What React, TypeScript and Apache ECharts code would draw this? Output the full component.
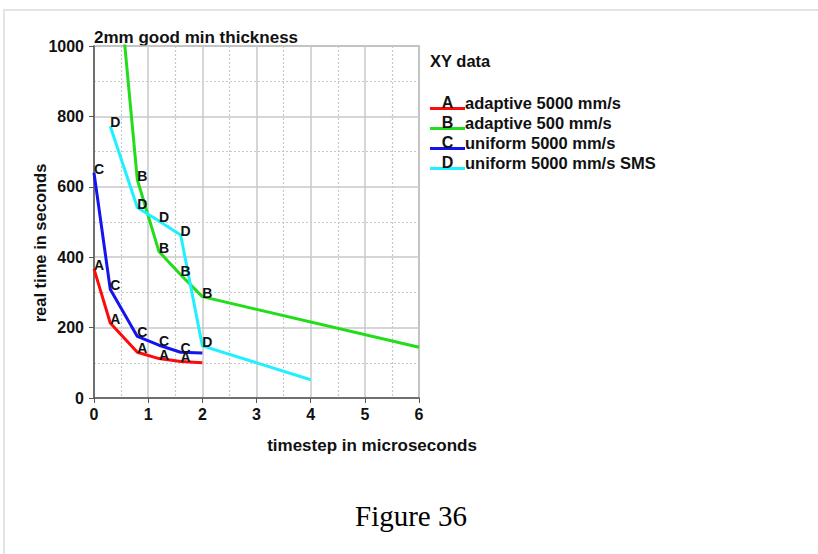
import React, { useEffect, useRef } from "react";
import * as echarts from "echarts";

const seriesNames = ["adaptive 5000 mm/s", "adaptive 500 mm/s", "uniform 5000 mm/s", "uniform 5000 mm/s SMS"];
const seriesLetters = ["A", "B", "C", "D"];
const seriesColors = ["#ff0a0a", "#22dd1a", "#1414f0", "#1ef0ff"];

const dataA: [number, number][] = [[0, 367], [0.3, 213], [0.8, 130], [1.2, 112], [1.6, 104], [2, 100]];
const dataB: [number, number][] = [[0.5, 1115], [0.8, 620], [1.2, 416], [1.6, 350], [2, 288], [6, 144]];
const dataC: [number, number][] = [[0, 640], [0.3, 309], [0.8, 175], [1.2, 150], [1.6, 130], [2, 128]];
const dataD: [number, number][] = [[0.3, 772], [0.8, 541], [1.2, 503], [1.6, 463], [2, 148], [4, 52]];
const allData = [dataA, dataB, dataC, dataD];

const titleText = "2mm good min thickness";
const xName = "timestep in microseconds";
const yName = "real time in seconds";
const legendTitle = "XY data";
const caption = "Figure 36";

const FONT = "Liberation Sans, Arial, sans-serif";

export default function App() {
  const ref = useRef<HTMLDivElement>(null);
  useEffect(() => {
    if (!ref.current) return;
    const chart = echarts.init(ref.current, undefined, { renderer: "svg" });

    const series = allData.map((d, i) => ({
      type: "line",
      name: seriesNames[i],
      data: d,
      symbol: "circle",
      symbolSize: 0,
      clip: true,
      lineStyle: { color: seriesColors[i], width: 3 },
      itemStyle: { color: seriesColors[i] },
      label: {
        show: true,
        position: "top",
        distance: 0,
        offset: [5, 3],
        color: "#111",
        fontFamily: FONT,
        fontWeight: "bold",
        fontSize: 14,
        formatter: (p: any) => (p.dataIndex < d.length - 1 ? seriesLetters[i] : ""),
      },
      emphasis: { disabled: true },
      z: 3,
    }));

    const legendEls: any[] = [];
    seriesNames.forEach((n, i) => {
      const cy = 102.5 + 20 * i;
      legendEls.push({
        type: "line",
        shape: { x1: 430, y1: cy + 6, x2: 465, y2: cy + 6 },
        style: { stroke: seriesColors[i], lineWidth: 3 },
      });
      legendEls.push({
        type: "text",
        x: 447.5,
        y: cy,
        style: {
          text: seriesLetters[i],
          fill: "#111",
          font: `bold 16px ${FONT}`,
          align: "center",
          verticalAlign: "middle",
        },
      });
      legendEls.push({
        type: "text",
        x: 465,
        y: cy,
        style: {
          text: n,
          fill: "#111",
          font: `bold 16.5px ${FONT}`,
          align: "left",
          verticalAlign: "middle",
        },
      });
    });

    chart.setOption({
      animation: false,
      backgroundColor: "#ffffff",
      grid: {
        left: 94,
        top: 46,
        width: 325,
        height: 352,
        show: true,
        borderColor: "#9a9a9a",
        borderWidth: 1.5,
        containLabel: false,
      },
      xAxis: {
        type: "value",
        min: 0,
        max: 6,
        interval: 1,
        axisLine: { show: true, lineStyle: { color: "#555", width: 1.5 } },
        axisTick: { show: true, length: 5, lineStyle: { color: "#555" } },
        axisLabel: { margin: 8, color: "#111", fontFamily: FONT, fontWeight: "bold", fontSize: 16 },
        splitLine: { show: true, lineStyle: { color: "#c8c8c8", width: 1.5 } },
        minorTick: { show: false, splitNumber: 2 },
        minorSplitLine: { show: true, lineStyle: { color: "#c8c8c8", type: [2, 2], width: 1.2 } },
      },
      yAxis: {
        type: "value",
        min: 0,
        max: 1000,
        interval: 200,
        axisLine: { show: true, lineStyle: { color: "#555", width: 1.5 } },
        axisTick: { show: true, length: 5, lineStyle: { color: "#555" } },
        axisLabel: {
          margin: 10,
          color: "#111",
          fontFamily: FONT,
          fontWeight: "bold",
          fontSize: 16,
          formatter: (v: number) => String(v),
        },
        splitLine: { show: true, lineStyle: { color: "#c8c8c8", width: 1.5 } },
        minorTick: { show: false, splitNumber: 2 },
        minorSplitLine: { show: true, lineStyle: { color: "#c8c8c8", type: [2, 2], width: 1.2 } },
      },
      series,
      graphic: [
        {
          type: "rect",
          shape: { x: 4, y: 10, width: 830, height: 560 },
          style: { fill: "none", stroke: "#e4e4e4", lineWidth: 2 },
          silent: true,
          z: -10,
        },
        {
          type: "text",
          x: 94,
          y: 37,
          style: { text: titleText, fill: "#111", font: `bold 17px ${FONT}`, align: "left", verticalAlign: "middle" },
        },
        {
          type: "text",
          x: 372,
          y: 445,
          style: { text: xName, fill: "#111", font: `bold 17px ${FONT}`, align: "center", verticalAlign: "middle" },
        },
        {
          type: "text",
          x: 40,
          y: 243,
          rotation: Math.PI / 2,
          style: { text: yName, fill: "#111", font: `bold 16.5px ${FONT}`, align: "center", verticalAlign: "middle" },
        },
        {
          type: "text",
          x: 430,
          y: 61,
          style: { text: legendTitle, fill: "#111", font: `bold 16.5px ${FONT}`, align: "left", verticalAlign: "middle" },
        },
        ...legendEls,
        {
          type: "text",
          x: 411,
          y: 516,
          style: { text: caption, fill: "#000", font: `29px Liberation Serif, Times New Roman, serif`, align: "center", verticalAlign: "middle" },
        },
      ],
    });
    return () => chart.dispose();
  }, []);
  return (
    <div
      ref={ref}
      style={{ position: "absolute", left: 0, top: 0, width: 818, height: 554, background: "#fff" }}
    />
  );
}
